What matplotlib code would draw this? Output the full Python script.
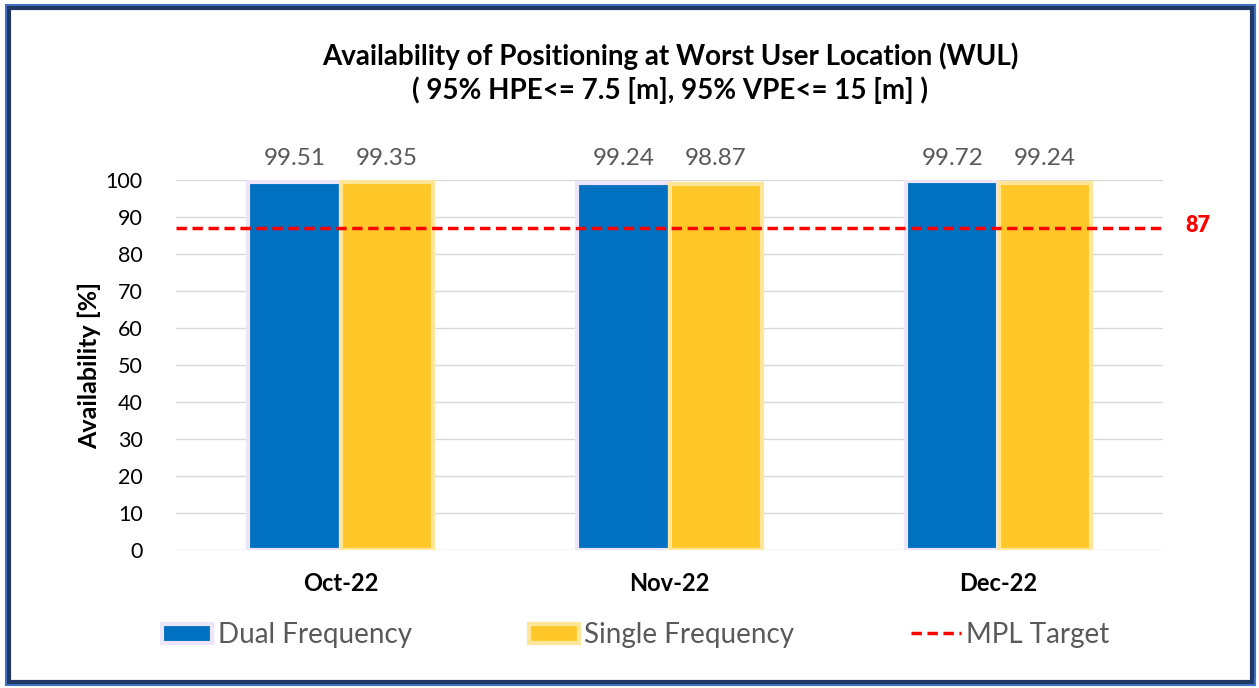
import numpy as np
import matplotlib.pyplot as plt
from matplotlib.patches import Rectangle, Patch
from matplotlib.lines import Line2D

plt.rcParams['font.family'] = ['Lato', 'DejaVu Sans']

# data
months = ['Oct-22', 'Nov-22', 'Dec-22']
dual_freq = [99.51, 99.24, 99.72]
single_freq = [99.35, 98.87, 99.24]
mpl_target = 87

c_dual = '#0070C0'
c_single = '#FFC828'
c_dual_edge = '#EDE6FA'
c_single_edge = '#FFE699'

dpi = 100
fig = plt.figure(figsize=(1259/dpi, 688/dpi), dpi=dpi)
ax = fig.add_axes([176/1259, 1-550/688, 987/1259, 370/688])

x = np.arange(len(months))
w = 0.28
ax.bar(x - w/2, dual_freq, w, color=c_dual, edgecolor=c_dual_edge, linewidth=3, zorder=3)
ax.bar(x + w/2, single_freq, w, color=c_single, edgecolor=c_single_edge, linewidth=3, zorder=3)

for xi, v in zip(x - w/2, dual_freq):
    ax.text(xi, 103, '%.2f' % v, ha='center', va='bottom', fontsize=17.5, color='#595959')
for xi, v in zip(x + w/2, single_freq):
    ax.text(xi, 103, '%.2f' % v, ha='center', va='bottom', fontsize=17.5, color='#595959')

ax.axhline(mpl_target, color='#FF0000', linestyle=(0, (3, 1.6)), linewidth=2.5, zorder=4)
ax.text(1185/1259, 1-226/688, str(mpl_target), transform=fig.transFigure, color='#FF0000',
        fontsize=15.5, fontweight='heavy', ha='left', va='center')

ax.set_xlim(-0.5, 2.5)
ax.set_ylim(0, 100)
ax.set_yticks(np.arange(0, 101, 10))
ax.set_xticks(x)
ax.set_xticklabels(months, fontsize=17, fontweight='bold')
ax.tick_params(axis='y', labelsize=15.5, length=0, pad=24)
ax.tick_params(axis='x', length=0, pad=16)
ax.grid(axis='y', color='#D9D9D9', linewidth=1, zorder=0)
for s in ax.spines.values():
    s.set_visible(False)
ax.set_ylabel('Availability [%]', fontsize=18, fontweight='bold', labelpad=3)

fig.text(670/1259, 1-56/688, 'Availability of Positioning at Worst User Location (WUL)',
         ha='center', va='center', fontsize=20, fontweight='bold')
fig.text(670/1259, 1-90/688, '( 95% HPE<= 7.5 [m], 95% VPE<= 15 [m] )',
         ha='center', va='center', fontsize=20, fontweight='bold')

handles = [Patch(facecolor=c_dual, edgecolor=c_dual_edge, linewidth=3),
           Patch(facecolor=c_single, edgecolor=c_single_edge, linewidth=3),
           Line2D([0], [0], color='#FF0000', linestyle=(0, (3, 1.6)), linewidth=2.5)]
fig.legend(handles, ['Dual Frequency', 'Single Frequency', 'MPL Target'],
           loc='center', bbox_to_anchor=(636/1259, 1-635/688), ncol=3, frameon=False,
           fontsize=20, labelcolor='#595959', columnspacing=4.2, handlelength=1.8,
           handleheight=0.7, handletextpad=0.2)

# chart border
fig.patches.append(Rectangle((6/1259, 3/688), 1249/1259, 680/688, transform=fig.transFigure,
                             fill=False, edgecolor='#4472C4', linewidth=1.5))
fig.patches.append(Rectangle((9/1259, 6/688), 1243/1259, 674/688, transform=fig.transFigure,
                             fill=False, edgecolor='#1F3864', linewidth=3))

plt.savefig('out.png', dpi=dpi)
